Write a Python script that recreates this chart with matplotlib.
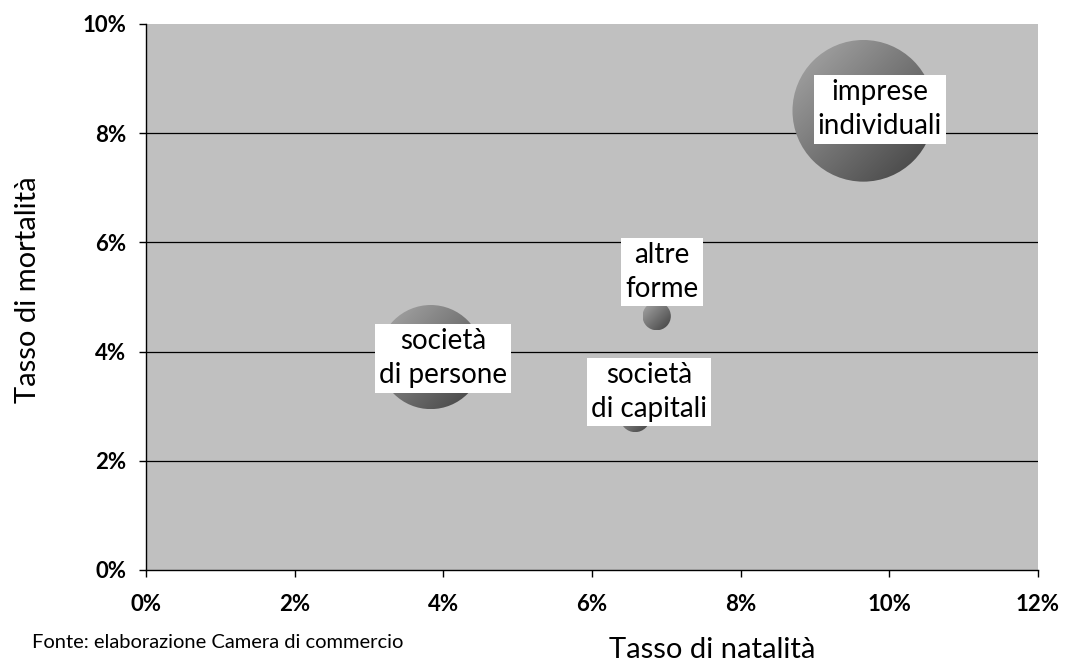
import numpy as np
import matplotlib
matplotlib.use("Agg")
import matplotlib.pyplot as plt
from matplotlib.patches import Circle
from matplotlib.colors import LinearSegmentedColormap
import matplotlib.transforms as mtransforms

# ---- data ----
categories = ["imprese\nindividuali", "società\ndi persone", "altre\nforme", "società\ndi capitali"]
natalita = [9.65, 3.83, 6.87, 6.58]      # Tasso di natalità (%)
mortalita = [8.41, 3.90, 4.65, 2.80]     # Tasso di mortalità (%)
bubble_size = [100, 54, 4.0, 4.5]        # relative bubble size (area)
x_ticks = [0, 2, 4, 6, 8, 10, 12]
y_ticks = [0, 2, 4, 6, 8, 10]

# ---- style ----
label_offsets_pt = [(12, 1), (9, -1), (4, 32), (10, 18)]  # label offset from bubble centre
max_radius_pt = 51.0
FONT = "Lato"
plt.rcParams["font.family"] = [FONT, "DejaVu Sans"]

fig = plt.figure(figsize=(10.65, 6.64), dpi=100)
ax = fig.add_axes([146 / 1065, 94 / 664, (1038 - 146) / 1065, (570 - 24) / 664])
ax.set_facecolor("#c0c0c0")
ax.set_xlim(0, 12)
ax.set_ylim(0, 10)

for s in ["top", "right"]:
    ax.spines[s].set_visible(False)
for s in ["left", "bottom"]:
    ax.spines[s].set_color("black")
    ax.spines[s].set_linewidth(1.0)

ax.set_xticks(x_ticks)
ax.set_yticks(y_ticks)
ax.set_xticklabels([f"{t}%" for t in x_ticks], fontsize=16, fontweight="bold")
ax.set_yticklabels([f"{t}%" for t in y_ticks], fontsize=16, fontweight="bold")
ax.tick_params(axis="x", direction="out", length=5, width=1, pad=12)
ax.tick_params(axis="y", direction="out", length=5, width=1, pad=9)

for yv in y_ticks[1:-1]:
    ax.axhline(yv, color="black", lw=0.9, zorder=1)

cmap = LinearSegmentedColormap.from_list("g", ["#ababab", "#3e3e3e"])
n = 200
ii, jj = np.mgrid[0:n, 0:n]
grad = (ii + jj) / (2 * (n - 1))

smax = max(bubble_size)
inv = ax.transData.inverted()
for x, y, s in zip(natalita, mortalita, bubble_size):
    r_pt = max_radius_pt * np.sqrt(s / smax)
    r_in = r_pt / 72
    trans = fig.dpi_scale_trans + mtransforms.ScaledTranslation(x, y, ax.transData)
    circ = Circle((0, 0), radius=r_in, transform=trans, facecolor="none", edgecolor="none", zorder=3)
    ax.add_patch(circ)
    cx, cy = ax.transData.transform((x, y))
    rpx = r_in * fig.dpi
    x0, y0 = inv.transform((cx - rpx, cy - rpx))
    x1, y1 = inv.transform((cx + rpx, cy + rpx))
    im = ax.imshow(grad, extent=(x0, x1, y0, y1), origin="upper", cmap=cmap,
                   aspect="auto", zorder=3, interpolation="bilinear")
    im.set_clip_path(circ)

ax.set_xlim(0, 12)
ax.set_ylim(0, 10)

for lab, x, y, off in zip(categories, natalita, mortalita, label_offsets_pt):
    ax.annotate(lab, (x, y), xytext=off, textcoords="offset points",
                ha="center", va="center", fontsize=20, linespacing=1.38,
                bbox=dict(boxstyle="square,pad=0.15", fc="white", ec="none"),
                zorder=5)

fig.text(28 / 1065, 1 - 290 / 664, "Tasso di mortalità", rotation=90,
         ha="center", va="center", fontsize=21)
fig.text(712 / 1065, 1 - 650 / 664, "Tasso di natalità", ha="center", va="center", fontsize=21)
fig.text(32 / 1065, 1 - 643 / 664, "Fonte: elaborazione Camera di commercio",
         ha="left", va="center", fontsize=14.5)

fig.savefig("out.png", dpi=100)
